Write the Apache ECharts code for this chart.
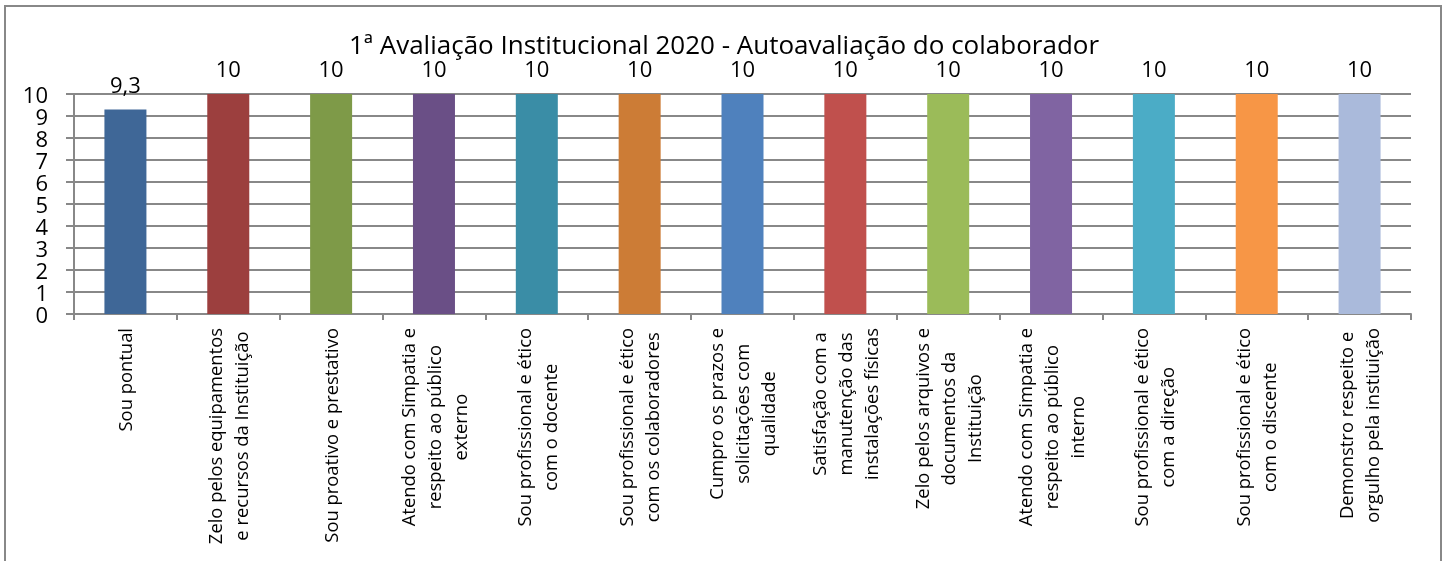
<!DOCTYPE html>
<html>
<head>
<meta charset="utf-8">
<style>
html,body{margin:0;padding:0;background:#fff}
#chart{width:1446px;height:561px}
</style>
<script src="https://cdn.jsdelivr.net/npm/echarts@6/dist/echarts.min.js"></script>
</head>
<body>
<div id="chart"></div>
<script>
var chartTitle = '1ª Avaliação Institucional 2020 - Autoavaliação do colaborador'
var categories = [
  'Sou pontual',
  'Zelo pelos equipamentos\ne recursos da Instituição',
  'Sou proativo e prestativo',
  'Atendo com Simpatia e\nrespeito ao público\nexterno',
  'Sou profissional e ético\ncom o docente',
  'Sou profissional e ético\ncom os colaboradores',
  'Cumpro os prazos e\nsolicitações com\nqualidade',
  'Satisfação com a\nmanutenção das\ninstalações físicas',
  'Zelo pelos arquivos e\ndocumentos da\nInstituição',
  'Atendo com Simpatia e\nrespeito ao público\ninterno',
  'Sou profissional e ético\ncom a direção',
  'Sou profissional e ético\ncom o discente',
  'Demonstro respeito e\norgulho pela instiuição'
]
var values = [9.3, 10, 10, 10, 10, 10, 10, 10, 10, 10, 10, 10, 10]
var barColors = ['#3F6797','#9C3F3E','#7E9A48','#6A4F86','#3A8DA6','#CC7C36','#4F81BD','#C0504D','#9BBB59','#8064A2','#4BACC6','#F79646','#AABADB']

var font = '"Open Sans", sans-serif'
var gray = '#888888'
var mychart = echarts.init(document.getElementById('chart'), null, {renderer:'canvas'})

var option = {
  animation: false,
  backgroundColor: '#fff',
  title: {
    text: chartTitle,
    left: 719,
    top: 29,
    textAlign: 'center',
    textStyle: {fontFamily: font, fontSize: 26, fontWeight: 'normal', color: '#000'}
  },
  graphic: [{
    type: 'rect',
    shape: {x: 5, y: 6, width: 1436, height: 570},
    style: {fill: 'none', stroke: gray, lineWidth: 2},
    silent: true
  }],
  grid: {left: 74, right: 35, top: 94, height: 220, containLabel: false},
  xAxis: {
    type: 'category',
    data: categories,
    axisTick: {show: true, length: 6, alignWithLabel: false, lineStyle: {color: gray, width: 2}},
    axisLine: {lineStyle: {color: gray, width: 2}},
    axisLabel: {
      interval: 0,
      rotate: 90,
      margin: 14,
      hideOverlap: false,
      padding: [3, 0, 0, 0],
      formatter: function (v) {
        return v.split('\n').map(function (l) { return '{l|' + l + '}' }).join('\n')
      },
      rich: {
        l: {fontFamily: font, fontSize: 18.4, lineHeight: 26, color: '#000', align: 'center'}
      }
    }
  },
  yAxis: {
    type: 'value',
    min: 0,
    max: 10,
    interval: 1,
    axisLine: {show: true, lineStyle: {color: gray, width: 2}},
    axisTick: {show: true, length: 8, lineStyle: {color: gray, width: 2}},
    axisLabel: {margin: 26, fontFamily: font, fontSize: 22, color: '#000', verticalAlign: 'top', lineHeight: 5},
    splitLine: {lineStyle: {color: gray, width: 2}}
  },
  series: [{
    type: 'bar',
    barWidth: 42,
    data: values.map(function (v, i) {
      return {value: v, itemStyle: {color: barColors[i]}}
    }),
    label: {
      show: true,
      position: 'top',
      distance: 12,
      fontFamily: font,
      fontSize: 22,
      color: '#000',
      formatter: function (p) { return String(p.value).replace('.', ',') }
    }
  }]
}
mychart.setOption(option, true)
</script>
</body>
</html>
